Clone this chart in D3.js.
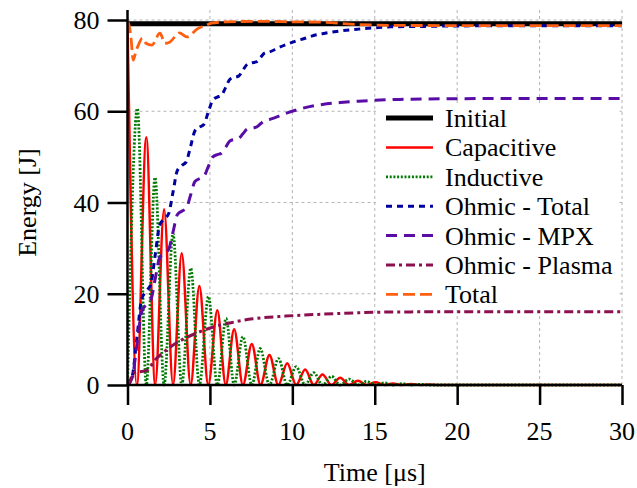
<!DOCTYPE html>
<html>
<head>
<meta charset="utf-8">
<script src="https://cdn.jsdelivr.net/npm/d3@7"></script>
</head>
<body style="margin:0">
<svg id="chart" width="637" height="488" style="font-family: Liberation Serif"></svg>
<script>
// ---------------- data ----------------
const xTicks = [0, 5, 10, 15, 20, 25, 30];
const yTicks = [0, 20, 40, 60, 80];
const xLabel = "Time [\u03bcs]";
const yLabel = "Energy [J]";

const seriesNames = ["Initial", "Capacitive", "Inductive", "Ohmic - Total", "Ohmic - MPX", "Ohmic - Plasma", "Total"];

const initial = [[0, 79.2], [30, 79.2]];

const capacitive = [
  [0, 79.2], [0.57, 0], [1.14, 54.3], [1.68, 0], [2.22, 38.5], [2.76, 0], [3.29, 28.9], [3.83, 0],
  [4.36, 21.7], [4.9, 0], [5.45, 16.4], [5.96, 0], [6.47, 12.2], [7.0, 0], [7.54, 9.0], [8.07, 0],
  [8.61, 6.6], [9.15, 0], [9.69, 4.75], [10.23, 0], [10.78, 3.4], [11.3, 0], [11.83, 2.3], [12.37, 0],
  [12.9, 1.6], [13.44, 0], [13.98, 0.95], [14.5, 0], [15.05, 0.6], [15.6, 0], [16.1, 0.35], [16.65, 0],
  [17.2, 0.2], [17.75, 0], [18.3, 0.1], [18.85, 0], [30, 0]
];

const inductive = [
  [0, 0], [0.6, 60.6], [1.14, 0], [1.67, 45.5], [2.22, 0], [2.76, 33.2], [3.29, 0], [3.84, 25.6],
  [4.36, 0], [4.91, 19.4], [5.45, 0], [5.98, 14.6], [6.47, 0], [7.0, 10.6], [7.54, 0], [8.05, 8.0],
  [8.61, 0], [9.16, 5.8], [9.69, 0], [10.23, 4.0], [10.78, 0], [11.3, 2.7], [11.83, 0], [12.38, 1.9],
  [12.9, 0], [13.45, 1.3], [13.98, 0], [14.5, 0.8], [15.05, 0], [15.6, 0.5], [16.1, 0], [16.65, 0.3],
  [17.2, 0], [17.75, 0.15], [18.3, 0], [30, 0]
];

const ohmicTotal = [
  [0, 0], [0.285, 1.85], [0.57, 10.3], [0.855, 18.75], [1.14, 20.6],
  [1.41, 22.0], [1.68, 28.5], [1.95, 35.0], [2.22, 36.4],
  [2.49, 37.5], [2.76, 42.25], [3.02, 47.0], [3.29, 48.1],
  [3.56, 48.9], [3.83, 52.3], [4.09, 55.7], [4.36, 56.5],
  [4.63, 57.1], [4.9, 59.8], [5.18, 62.5], [5.45, 63.1],
  [5.7, 63.5], [5.96, 65.25], [6.21, 67.0], [6.47, 67.4],
  [6.74, 67.7], [7.0, 69.0], [7.27, 70.3], [7.54, 70.6],
  [7.81, 70.8], [8.07, 71.8], [8.34, 72.8], [8.61, 73.0],
  [9.15, 73.9], [9.69, 74.7], [10.23, 75.4], [10.78, 76.0], [11.3, 76.6], [11.83, 77.0],
  [12.9, 77.6], [13.98, 78.0], [15.05, 78.3], [16.0, 78.5], [18.0, 78.6], [20.0, 78.7], [25.0, 78.75], [30.0, 78.75]
];

const ohmicMPX = [
  [0, 0], [0.285, 1.6], [0.57, 8.8], [0.855, 16.0], [1.14, 17.6],
  [1.41, 18.6], [1.68, 23.25], [1.95, 27.9], [2.22, 28.9],
  [2.49, 29.7], [2.76, 33.5], [3.02, 37.3], [3.29, 38.1],
  [3.56, 38.7], [3.83, 41.65], [4.09, 44.6], [4.36, 45.2],
  [4.63, 45.7], [4.9, 47.85], [5.18, 50.0], [5.45, 50.5],
  [5.7, 50.8], [5.96, 52.15], [6.21, 53.5], [6.47, 53.8],
  [6.74, 54.0], [7.0, 55.05], [7.27, 56.1], [7.54, 56.3],
  [7.81, 56.5], [8.07, 57.25], [8.34, 58.0], [8.61, 58.2],
  [9.69, 59.65], [10.78, 60.8], [11.83, 61.5], [12.9, 61.9], [14.0, 62.2], [15.0, 62.4],
  [16.5, 62.6], [20.0, 62.75], [25.0, 62.8], [30.0, 62.8]
];

const ohmicPlasma = [
  [0, 0], [0.1, 0.5], [0.25, 1.8], [0.4, 2.7], [0.7, 2.9], [1.1, 3.1], [1.35, 3.8], [1.6, 5.2],
  [2.0, 6.6], [2.4, 7.8], [3.3, 9.9], [4.2, 11.4], [5.2, 12.7], [6.2, 13.6], [7.6, 14.5],
  [9.6, 15.1], [11.7, 15.5], [13.7, 15.8], [16.0, 16.0], [20.0, 16.05], [30.0, 16.05]
];

const total = [
  [0, 79.4], [0.05, 79.5], [0.2, 76.5], [0.35, 71.2], [0.5, 73.0], [0.66, 74.5], [0.9, 76.0],
  [1.12, 74.9], [1.47, 74.5], [1.97, 77.1], [2.28, 74.9], [2.58, 75.2], [3.15, 77.2], [3.6, 76.3],
  [4.3, 78.2], [4.7, 78.7], [5.1, 79.3], [6.0, 79.6], [8.0, 79.7], [10.0, 79.6], [12.0, 79.5],
  [13.5, 79.1], [15.0, 78.9], [17.0, 78.8], [30.0, 78.75]
];

// ---------------- chart ----------------
const FONT = "Liberation Serif";
const FS = 26;
const svg = d3.select("#chart");
const pL = 127.5, pR = 622, pT = 10, pB = 385;

const x = d3.scaleLinear().domain([0, 30]).range([pL, pR]);
const y = d3.scaleLinear().domain([0, 80]).range([pB, 20]);

function addText(px, py, str, anchor, transform) {
  const t = svg.append("text")
    .attr("font-family", FONT).attr("font-size", FS)
    .style("font-family", FONT).style("font-size", FS + "px")
    .attr("fill", "#000").attr("text-anchor", anchor).text(str);
  if (transform) t.attr("transform", transform);
  else t.attr("x", px).attr("y", py);
  return t;
}

// grid
const grid = svg.append("g").attr("stroke", "#b4b4b4").attr("stroke-width", 1).attr("stroke-dasharray", "3,3").attr("fill", "none");
grid.selectAll("line.gx").data(xTicks.filter(d => d > 0)).join("line").attr("class", "gx")
  .attr("x1", d => x(d)).attr("x2", d => x(d)).attr("y1", pT).attr("y2", pB);
grid.selectAll("line.gy").data(yTicks.filter(d => d > 0)).join("line").attr("class", "gy")
  .attr("x1", pL).attr("x2", pR).attr("y1", d => y(d)).attr("y2", d => y(d));

// clip
svg.append("clipPath").attr("id", "clip").append("rect")
  .attr("x", pL).attr("y", pT - 2).attr("width", pR - pL + 2).attr("height", pB - pT + 4);

const styles = [
  { data: initial,     color: "#000000", width: 5,   dash: null },
  { data: capacitive,  color: "#ff0000", width: 2.5, dash: null },
  { data: inductive,   color: "#007a00", width: 2.8, dash: "2,1.7" },
  { data: ohmicTotal,  color: "#0000a0", width: 3,   dash: "6,5" },
  { data: ohmicMPX,    color: "#5a0ca6", width: 3,   dash: "11,7" },
  { data: ohmicPlasma, color: "#8c1050", width: 3,   dash: "9,4,3,4" },
  { data: total,       color: "#ff6010", width: 2.8, dash: "12,5" }
];

const line = d3.line().x(d => x(d[0])).y(d => y(d[1])).curve(d3.curveMonotoneX);
const plot = svg.append("g").attr("clip-path", "url(#clip)");
styles.forEach(s => {
  plot.append("path").datum(s.data)
    .attr("d", line)
    .attr("fill", "none")
    .attr("stroke", s.color)
    .attr("stroke-width", s.width)
    .attr("stroke-dasharray", s.dash)
    .attr("stroke-linejoin", "round");
});

// axes (tick marks via d3.axis, labels placed at root with the same scales)
const xAxis = d3.axisBottom(x).tickValues(xTicks).tickSize(20).tickFormat("");
const yAxis = d3.axisLeft(y).tickValues(yTicks).tickSize(20).tickFormat("");
const gx = svg.append("g").attr("transform", `translate(0,${pB})`).call(xAxis);
const gy = svg.append("g").attr("transform", `translate(${pL},0)`).call(yAxis);
[gx, gy].forEach(g => {
  g.select(".domain").remove();
  g.selectAll(".tick text").remove();
  g.selectAll(".tick line").attr("stroke", "#000").attr("stroke-width", 2.5);
});
xTicks.forEach(d => addText(x(d), pB + 55, String(d), "middle"));
yTicks.forEach(d => addText(pL - 28, y(d) + 9, String(d), "end"));

// spines
svg.append("line").attr("x1", pL).attr("x2", pL).attr("y1", pT).attr("y2", pB)
  .attr("stroke", "#000").attr("stroke-width", 2.5);
svg.append("line").attr("x1", pL).attr("x2", pR).attr("y1", pB).attr("y2", pB)
  .attr("stroke", "#000").attr("stroke-width", 2.5);

// axis labels
addText((pL + pR) / 2, 481, xLabel, "middle");
addText(0, 0, yLabel, "middle", `translate(36,${(20 + pB) / 2}) rotate(-90)`);

// legend
svg.append("rect").attr("x", 376).attr("y", 103).attr("width", 242).attr("height", 205).attr("fill", "#fff");
styles.forEach((s, i) => {
  const cy = 118 + i * 29.4;
  svg.append("line").attr("x1", 386).attr("x2", 433).attr("y1", cy).attr("y2", cy)
    .attr("stroke", s.color).attr("stroke-width", s.width).attr("stroke-dasharray", s.dash);
  addText(445, cy + 9, seriesNames[i], "start");
});
</script>
</body>
</html>
